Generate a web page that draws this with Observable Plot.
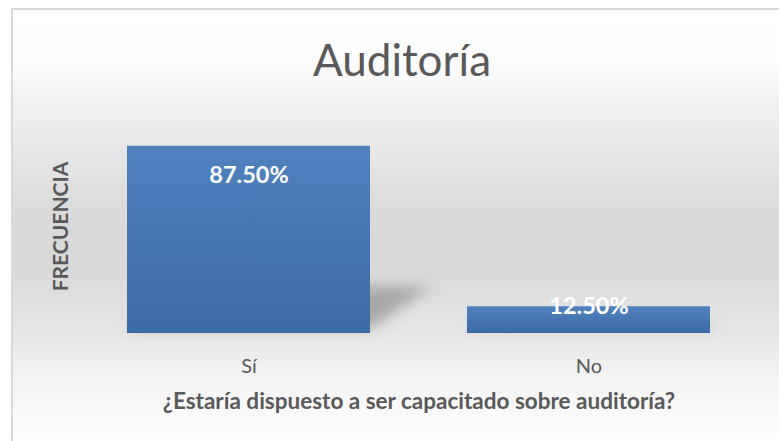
<!DOCTYPE html>
<html>
<head>
<meta charset="utf-8">
<script src="https://cdn.jsdelivr.net/npm/d3@7"></script>
<script src="https://cdn.jsdelivr.net/npm/@observablehq/plot@0.6"></script>
<style>
  html, body { margin: 0; padding: 0; background: #ffffff; }
  #wrap { position: relative; width: 779px; height: 441px; overflow: hidden; }
  #bg {
    position: absolute; left: 11px; top: 8px; width: 800px; height: 450px;
    border: 2px solid #d9d9d9; box-sizing: border-box;
    background: linear-gradient(to bottom,
      #ffffff 0%, #fdfdfd 11.5%, #f2f2f2 20%, #ebebeb 28%, #dcdcdc 43%,
      #d9d9d9 49%, #d9d9d9 58%, #e6e6e6 72%, #f1f1f1 80%, #fbfbfb 92%, #ffffff 97%);
  }
  #chart { position: absolute; left: 0; top: 0; }
</style>
</head>
<body>
<div id="wrap"><div id="bg"></div><div id="chart"></div></div>
<script>
const categories = ["Sí", "No"];
const values = [87.5, 12.5];
const valueLabels = ["87.50%", "12.50%"];
const chartTitle = "Auditoría";
const xTitle = "¿Estaría dispuesto a ser capacitado sobre auditoría?";
const yTitle = "FRECUENCIA";

const data = categories.map((c, i) => ({cat: c, value: values[i], label: valueLabels[i]}));
const FONT = "Lato, 'Open Sans', sans-serif";
const GREY = "#595959";

function defsMark() {
  const defs = d3.create("svg:defs");
  const g = defs.append("linearGradient").attr("id", "barGrad")
    .attr("x1", 0).attr("y1", 0).attr("x2", 0).attr("y2", 1);
  g.append("stop").attr("offset", "0%").attr("stop-color", "#5082bf");
  g.append("stop").attr("offset", "100%").attr("stop-color", "#3c6aa5");
  const f = defs.append("filter").attr("id", "shadowBlur")
    .attr("x", "-50%").attr("y", "-50%").attr("width", "200%").attr("height", "200%");
  f.append("feGaussianBlur").attr("stdDeviation", 7);
  return defs.node();
}

const chart = Plot.plot({
  width: 779,
  height: 441,
  marginLeft: 78,
  marginRight: 20,
  marginTop: 119,
  marginBottom: 108,
  style: {background: "transparent", fontFamily: FONT, color: GREY},
  x: {domain: categories, paddingInner: 0.286, paddingOuter: 0.143},
  y: {domain: [0, 100], axis: null},
  marks: [
    defsMark,
    Plot.barY(data, {x: "cat", y: "value", fill: "url(#barGrad)"}),
    Plot.axisX({tickSize: 0, tickPadding: 39, lineAnchor: "bottom", fontSize: 20, label: null, fill: GREY}),
    Plot.text(data, {filter: d => d.value > 50, x: "cat", y: "value", text: "label",
      dy: 29, fill: "white", fontSize: 23.5, fontWeight: "bold"}),
    Plot.text(data, {filter: d => d.value <= 50, x: "cat", y: "value", text: "label",
      dy: 0, fill: "white", fontSize: 23.5, fontWeight: "bold"}),
    Plot.text([chartTitle], {frameAnchor: "top", lineAnchor: "bottom", dx: -17, dy: -44,
      fontSize: 44, fill: GREY}),
    Plot.text([xTitle], {frameAnchor: "bottom", lineAnchor: "bottom", dy: 75,
      fontSize: 22.5, fontWeight: "bold", fill: GREY}),
    Plot.text([yTitle], {frameAnchor: "left", textAnchor: "middle", lineAnchor: "bottom", rotate: -90, dx: -11,
      fontSize: 21, fontWeight: "bold", fill: GREY})
  ]
});

// perspective shadows behind bars
const barGroup = chart.querySelector('g[aria-label="bar"]');
if (barGroup) {
  const sg = d3.create("svg:g").attr("filter", "url(#shadowBlur)").attr("aria-label", "bar shadow");
  barGroup.querySelectorAll("rect").forEach(r => {
    const x = +r.getAttribute("x"), y = +r.getAttribute("y");
    const w = +r.getAttribute("width"), h = +r.getAttribute("height");
    const yb = y + h, k = 0.25, s = 0.33 * h;
    sg.append("polygon")
      .attr("points", [[x, yb - 4], [x + w, yb - 4], [x + w + s, yb - k * h], [x + s, yb - k * h]].map(p => p.join(",")).join(" "))
      .attr("fill", "#6f6f6f").attr("fill-opacity", 0.5);
  });
  barGroup.parentNode.insertBefore(sg.node(), barGroup);
}

document.getElementById("chart").appendChild(chart);
</script>
</body>
</html>
